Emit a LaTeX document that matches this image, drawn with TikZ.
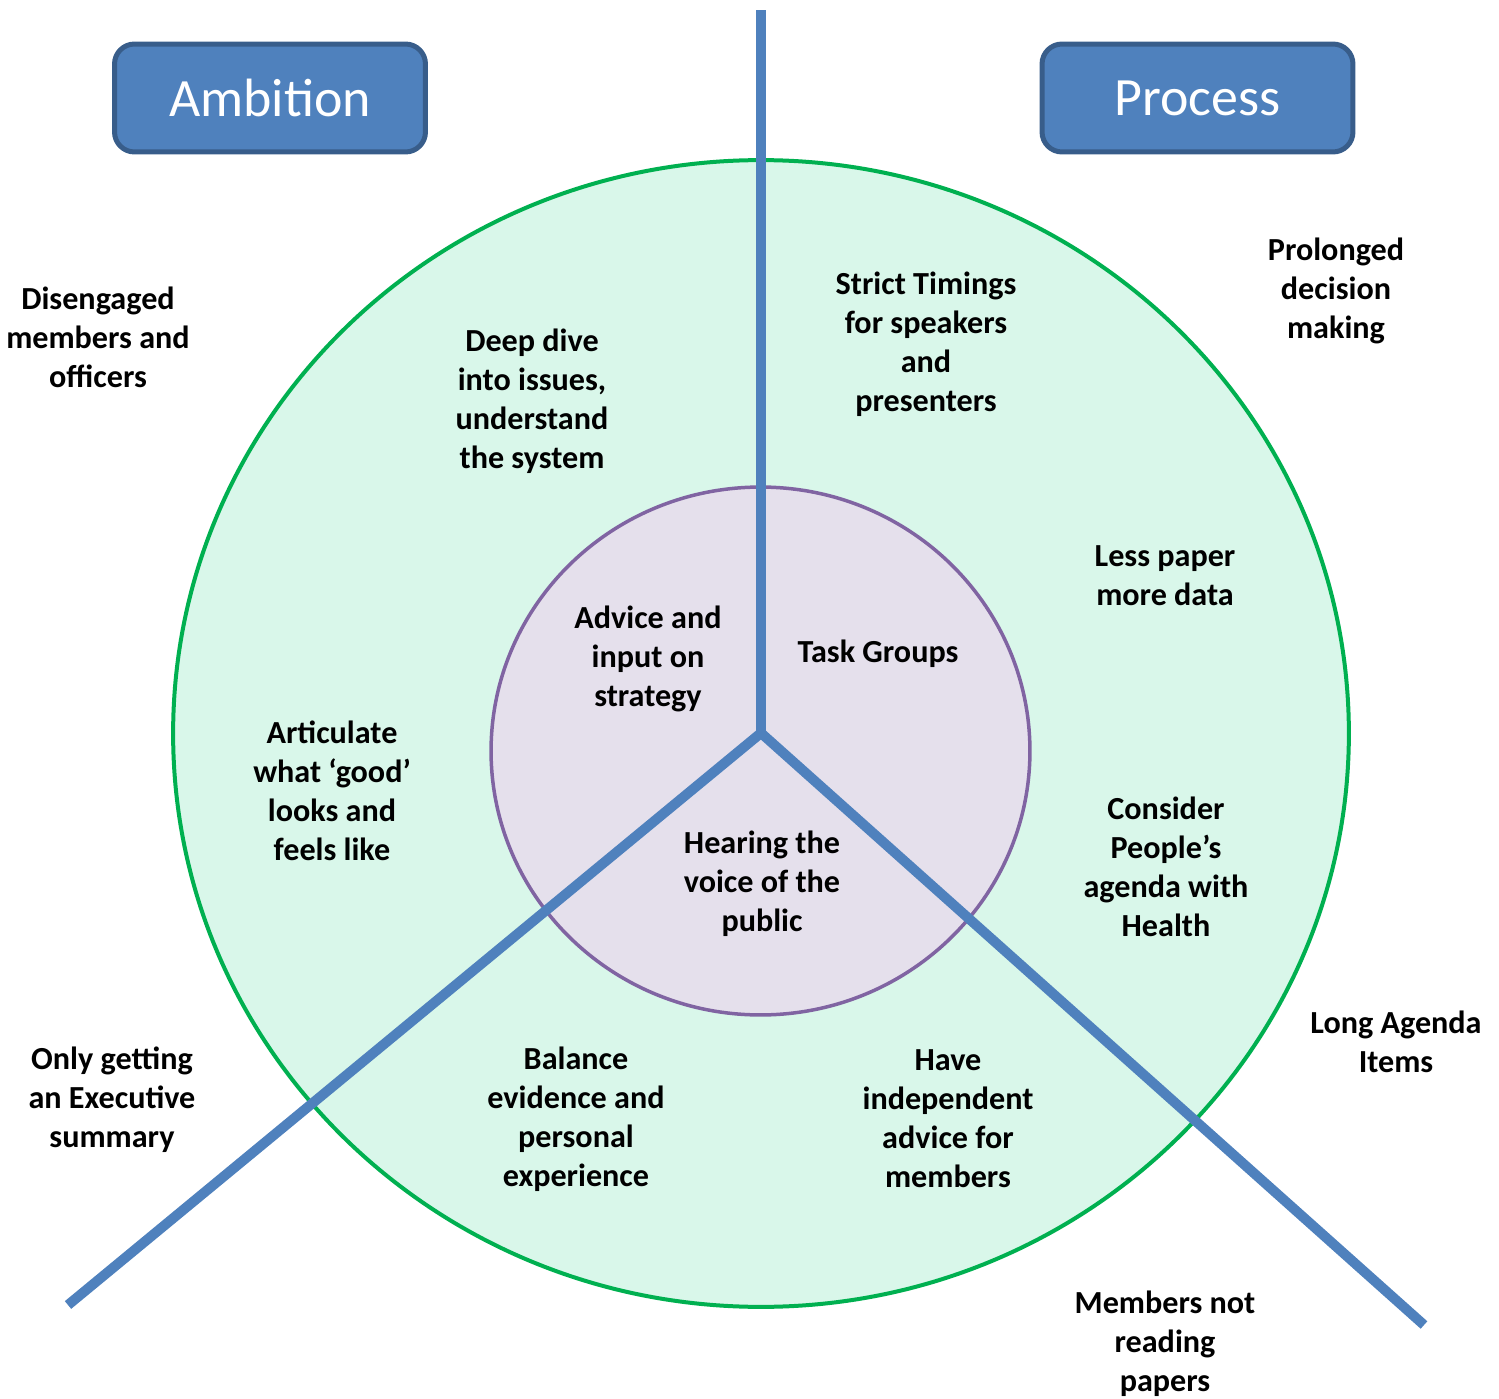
\documentclass[tikz,border=0pt]{standalone}
\usepackage{fontspec}
\setmainfont{Carlito}
\usetikzlibrary{positioning}
\definecolor{spokeColor}{RGB}{79,129,189}
\definecolor{boxEdgeColor}{RGB}{56,93,138}
\definecolor{outerFill}{RGB}{217,247,234}
\definecolor{outerEdge}{RGB}{0,176,80}
\definecolor{innerFill}{RGB}{229,224,236}
\definecolor{innerEdge}{RGB}{128,100,162}
\tikzset{titlebox/.style={fill=spokeColor, draw=boxEdgeColor, line width=0.1cm, text=white, align=center, minimum width=6.22cm, minimum height=2.16cm, rounded corners=.4cm, font=\fontsize{30.7}{36}\selectfont},
  note/.style={align=center, font=\fontsize{18.3}{22.2}\selectfont\bfseries, inner sep=0pt},
  spoke/.style={draw=spokeColor, line width=0.2cm}}

\begin{document}
\begin{tikzpicture}[x=0.02cm, y=-0.02cm]

    \useasboundingbox (0,0) rectangle (1499,1399);

    % Rings
    \draw [fill=outerFill, draw=outerEdge, line width=0.08cm] (761,733.5) ellipse [x radius=11.76cm, y radius=11.47cm];
    \draw [fill=innerFill, draw=innerEdge, line width=0.07cm] (760.5,751) ellipse [x radius=5.39cm, y radius=5.28cm];

    % Spokes
    \coordinate (hub) at (761,733);
    \coordinate (topEnd) at (761,10);
    \coordinate (leftEnd) at (68,1305);
    \coordinate (rightEnd) at (1424,1325);
    \draw [spoke] (hub) -- (topEnd);
    \draw [spoke] (hub) -- (leftEnd);
    \draw [spoke] (hub) -- (rightEnd);

    % Headings
    \node (ambition) [titlebox] at (270,98) {Ambition};
    \node (process) [titlebox] at (1197.5,98) {Process};

    % Inner texts
    \node (advice) [note] at (648,659) {Advice and\\input on\\strategy};
    \node (tasks) [note] at (878,654) {Task Groups};
    \node (hearing) [note] at (762,884) {Hearing the\\voice of the\\public};

    % Ring texts
    \node (deepdive) [note] at (532,401) {Deep dive\\into issues,\\understand\\the system};
    \node (timings) [note] at (926,344) {Strict Timings\\for speakers\\and\\presenters};
    \node (lesspaper) [note] at (1165,576) {Less paper\\more data};
    \node (articulate) [note] at (332,791) {Articulate\\what ‘good’\\looks and\\feels like};
    \node (consider) [note] at (1166,867) {Consider\\People’s\\agenda with\\Health};
    \node (balance) [note] at (576,1119) {Balance\\evidence and\\personal\\experience};
    \node (independent) [note] at (948,1119) {Have\\independent\\advice for\\members};

    % Outside texts
    \node (disengaged) [note] at (98,337) {Disengaged\\members and\\officers};
    \node (prolonged) [note] at (1336,291) {Prolonged\\decision\\making};
    \node (longagenda) [note] at (1396,1042) {Long Agenda\\Items};
    \node (execsummary) [note] at (112,1100) {Only getting\\an Executive\\summary};
    \node (notreading) [note] at (1165,1344) {Members not\\reading\\papers};

\end{tikzpicture}
\end{document}
